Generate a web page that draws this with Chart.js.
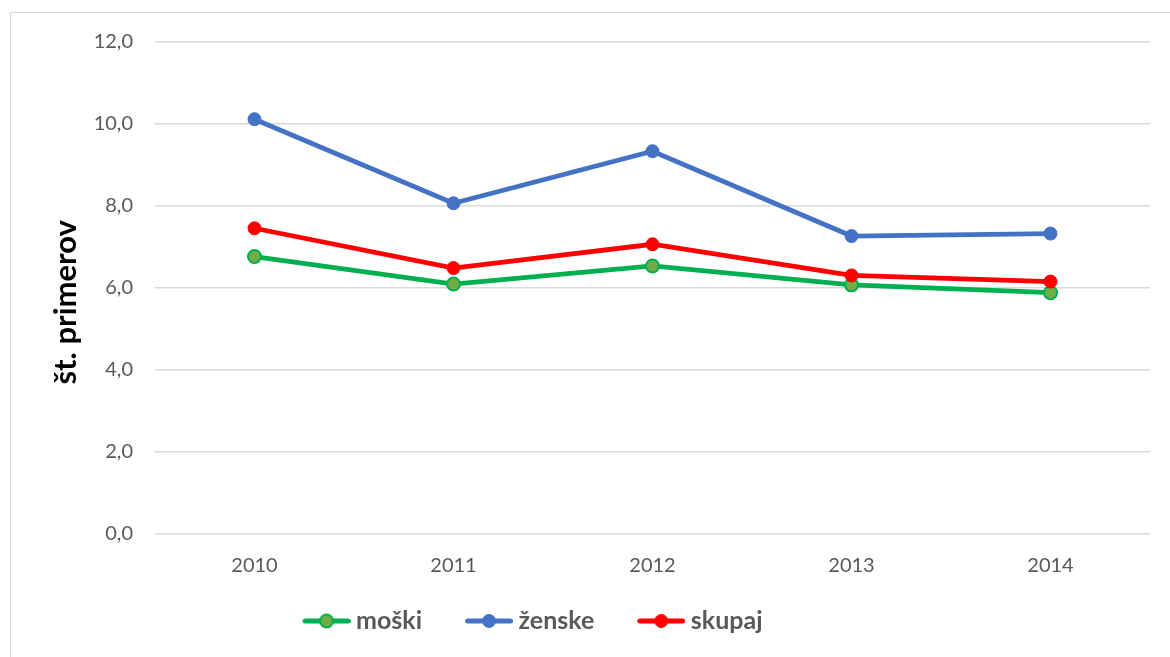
<!DOCTYPE html>
<html><head><meta charset="utf-8">
<script src="https://cdn.jsdelivr.net/npm/chart.js@4.4.1/dist/chart.umd.min.js"></script>
<style>
html,body{margin:0;padding:0;background:#fff;overflow:hidden;width:1170px;height:657px;}
#frame{position:absolute;left:10px;top:12px;width:1200px;height:700px;border:1px solid #d9d9d9;box-sizing:border-box;}
#wrap{position:absolute;left:0;top:0;width:1170px;height:657px;}
</style></head><body>
<div id="frame"></div>
<div id="wrap"><canvas id="c" width="1170" height="657"></canvas></div>
<script>
const years = ['2010', '2011', '2012', '2013', '2014'];
const seriesNames = ['moški', 'ženske', 'skupaj'];
const moski = [6.75, 6.08, 6.52, 6.06, 5.87];
const zenske = [10.10, 8.05, 9.32, 7.25, 7.31];
const skupaj = [7.44, 6.47, 7.05, 6.29, 6.14];
const yTicks = [0, 2, 4, 6, 8, 10, 12];
const yTitle = 'št. primerov';

const lineColors = ['#00b050', '#4472c4', '#ff0000'];
const fillColors = ['#70ad47', '#4472c4', '#ff0000'];

function makeIcon(line, fill, border, bw) {
  const c = document.createElement('canvas');
  c.width = 68; c.height = 18;
  const g = c.getContext('2d');
  g.strokeStyle = line; g.lineWidth = 5; g.lineCap = 'round';
  g.beginPath(); g.moveTo(22.5, 9); g.lineTo(65.5, 9); g.stroke();
  g.beginPath(); g.arc(44, 9, 6.5, 0, Math.PI * 2);
  g.fillStyle = fill; g.fill();
  g.lineWidth = bw; g.strokeStyle = border; g.stroke();
  return c;
}
const icons = [
  makeIcon(lineColors[0], fillColors[0], lineColors[0], 2),
  makeIcon(lineColors[1], fillColors[1], lineColors[1], 1),
  makeIcon(lineColors[2], fillColors[2], lineColors[2], 1)
];

const seriesData = [moski, zenske, skupaj];
const datasets = seriesData.map((d, i) => ({
  label: seriesNames[i],
  data: d,
  borderColor: lineColors[i],
  backgroundColor: fillColors[i],
  pointBackgroundColor: fillColors[i],
  pointBorderColor: lineColors[i],
  pointBorderWidth: i === 0 ? 2 : 1,
  pointRadius: 6.5,
  borderWidth: 4.8,
  tension: 0,
  order: 2 - i
}));

new Chart(document.getElementById('c'), {
  type: 'line',
  data: { labels: years, datasets: datasets },
  options: {
    responsive: false,
    animation: false,
    events: [],
    layout: { padding: { left: -98, right: 20, top: 41.3, bottom: 13.5 } },
    plugins: {
      tooltip: { enabled: false },
      legend: {
        position: 'bottom',
        labels: {
          usePointStyle: true,
          pointStyleWidth: 54,
          padding: 30,
          color: '#595959',
          font: { family: 'Lato', size: 25, weight: 'bold' },
          generateLabels(chart) {
            const items = Chart.defaults.plugins.legend.labels.generateLabels(chart);
            items.sort((a, b) => a.datasetIndex - b.datasetIndex);
            items.forEach(it => { it.pointStyle = icons[it.datasetIndex]; });
            return items;
          }
        }
      }
    },
    scales: {
      x: {
        offset: true,
        grid: { display: false, drawTicks: false },
        border: { display: false },
        ticks: { color: '#595959', padding: 20, font: { family: 'Lato', size: 20 } },
        afterFit(s) { s.height = 45.2; }
      },
      y: {
        min: 0, max: 12,
        afterBuildTicks(s) { s.ticks = yTicks.map(v => ({ value: v })); },
        grid: { color: '#d9d9d9', lineWidth: 1.5, drawTicks: false },
        border: { display: false },
        ticks: {
          color: '#595959', padding: 22,
          font: { family: 'Lato', size: 20 },
          callback: v => v.toFixed(1).replace('.', ',')
        },
        title: {
          display: true,
          text: yTitle + '    ',
          color: '#000000',
          font: { family: 'Lato', size: 31, weight: 'bold' },
          padding: { top: 145, bottom: 0 }
        },
        afterFit(s) { s.width = 253; }
      }
    }
  }
});
</script>
</body></html>
